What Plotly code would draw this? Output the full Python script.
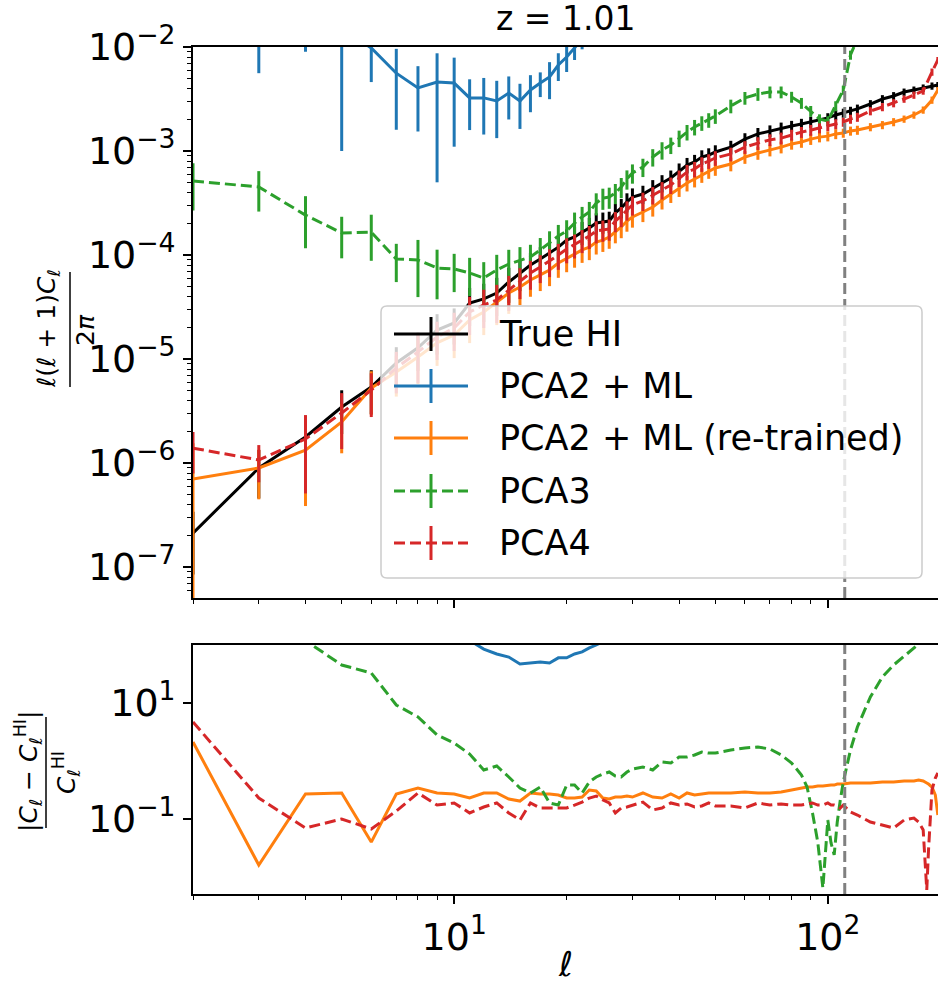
import plotly.graph_objects as go

# ---------------------------------------------------------------------------
# Angular power spectra at z = 1.01
# ---------------------------------------------------------------------------
ell = [2, 3, 4, 5, 6, 7, 8, 9, 10, 11, 12, 13, 14, 15, 16, 17, 18, 19, 20, 21,
       22, 23, 24, 25, 26, 27, 28, 29, 30, 32, 34, 36, 38, 40, 42, 44, 46, 48,
       50, 55, 60, 65, 70, 75, 80, 85, 90, 95, 100, 105, 110, 115, 120, 130,
       140, 150, 160, 170, 180, 190, 197]

cl_true_hi = [2.12e-7, 8.95e-7, 1.78e-6, 3.45e-6, 5.38e-6, 9.15e-6, 1.28e-5, 1.90e-5,
              2.22e-5, 3.45e-5, 3.78e-5, 4.31e-5, 5.50e-5, 6.71e-5, 8.01e-5, 9.15e-5,
              1.045e-4, 1.19e-4, 1.39e-4, 1.49e-4, 1.66e-4, 1.82e-4, 2.03e-4, 2.08e-4,
              2.12e-4, 2.54e-4, 2.83e-4, 3.24e-4, 3.61e-4,
              3.86e-4, 4.41e-4, 4.92e-4, 5.50e-4, 6.43e-4, 7.33e-4, 7.84e-4, 8.75e-4, 9.15e-4,
              9.78e-4, 1.09e-3, 1.30e-3, 1.46e-3, 1.56e-3, 1.66e-3, 1.74e-3, 1.82e-3,
              1.90e-3, 1.99e-3, 2.08e-3, 2.22e-3, 2.32e-3, 2.42e-3, 2.54e-3,
              2.83e-3, 3.16e-3, 3.38e-3, 3.69e-3, 3.86e-3, 4.04e-3, 4.22e-3, 4.31e-3]

cl_pca2_ml_rt = [7.02e-7, 8.95e-7, 1.33e-6, 2.48e-6, 5.26e-6, 7.50e-6, 1.045e-5, 1.43e-5,
                 1.70e-5, 2.37e-5, 2.83e-5, 3.53e-5, 4.31e-5, 4.92e-5, 5.75e-5, 6.43e-5,
                 7.17e-5, 8.38e-5, 9.36e-5, 1.02e-4, 1.12e-4, 1.19e-4, 1.33e-4, 1.39e-4,
                 1.49e-4, 1.66e-4, 1.86e-4, 2.12e-4, 2.32e-4,
                 2.59e-4, 2.89e-4, 3.38e-4, 3.86e-4, 4.41e-4, 4.92e-4, 5.38e-4, 5.88e-4, 6.43e-4,
                 6.87e-4, 7.50e-4, 8.75e-4, 9.57e-4, 1.02e-3, 1.09e-3, 1.17e-3, 1.22e-3,
                 1.30e-3, 1.36e-3, 1.39e-3, 1.46e-3, 1.49e-3, 1.56e-3, 1.59e-3,
                 1.70e-3, 1.78e-3, 1.90e-3, 2.03e-3, 2.22e-3, 2.48e-3, 3.09e-3, 3.86e-3]

cl_pca3 = [5.15e-4, 4.51e-4, 2.42e-4, 1.63e-4, 1.66e-4, 9.15e-5, 8.95e-5, 7.50e-5,
           7.33e-5, 6.71e-5, 6.01e-5, 7.17e-5, 8.19e-5, 8.95e-5, 9.57e-5, 1.12e-4,
           1.30e-4, 1.52e-4, 1.70e-4, 2.03e-4, 2.32e-4, 2.59e-4, 3.16e-4, 3.53e-4,
           3.61e-4, 3.95e-4, 4.51e-4, 5.38e-4, 6.14e-4,
           7.02e-4, 8.75e-4, 1.02e-3, 1.14e-3, 1.33e-3, 1.52e-3, 1.70e-3, 1.86e-3, 1.99e-3,
           2.17e-3, 2.71e-3, 3.24e-3, 3.53e-3, 3.69e-3, 3.69e-3, 3.31e-3, 2.89e-3,
           2.42e-3, 2.03e-3, 1.94e-3, 2.71e-3, 3.86e-3, 8.38e-3, 1.2e-2,
           3.9e-2, 9.2e-2, 0.156, 0.24, 0.35, 0.5, 0.68, 0.82]

cl_pca4 = [1.39e-6, 1.07e-6, 1.70e-6, 3.03e-6, 5.03e-6, 8.19e-6, 1.17e-5, 1.63e-5,
           1.99e-5, 2.83e-5, 3.31e-5, 3.69e-5, 4.60e-5, 5.62e-5, 6.71e-5, 7.67e-5,
           8.75e-5, 1.00e-4, 1.14e-4, 1.25e-4, 1.39e-4, 1.52e-4, 1.70e-4, 1.74e-4,
           1.78e-4, 2.12e-4, 2.37e-4, 2.71e-4, 3.03e-4,
           3.31e-4, 3.78e-4, 4.22e-4, 4.71e-4, 5.50e-4, 6.28e-4, 6.71e-4, 7.50e-4, 8.01e-4,
           8.57e-4, 9.36e-4, 1.09e-3, 1.19e-3, 1.28e-3, 1.33e-3, 1.43e-3, 1.52e-3,
           1.59e-3, 1.66e-3, 1.74e-3, 1.82e-3, 1.90e-3, 2.03e-3, 2.12e-3,
           2.42e-3, 2.65e-3, 2.89e-3, 3.16e-3, 3.45e-3, 3.78e-3, 5.75e-3, 7.50e-3]

# PCA2 + ML only stays on scale at low multipoles
ell_pca2_ml = ell[:29]
cl_pca2_ml = [3.0e-2, 2.0e-2, 2.5e-2, 1.5e-2, 9.8e-3, 5.6e-3, 4.04e-3, 4.6e-3, 4.5e-3,
              3.24e-3, 3.24e-3, 3.03e-3, 3.61e-3, 3.03e-3, 3.86e-3, 4.5e-3, 5.15e-3,
              6.71e-3, 8.0e-3, 9.8e-3, 1.2e-2, 1.45e-2, 1.75e-2, 2.1e-2, 2.5e-2,
              3.0e-2, 3.5e-2, 4.1e-2, 4.8e-2]
err_pca2_ml = [1.5e-2, 1.44e-2, 1.6e-2, 1.4e-2, 5.2e-3, 4.0e-3, 2.5e-3, 4.1e-3, 3.4e-3,
               1.65e-3, 1.8e-3, 1.7e-3, 1.6e-3, 1.4e-3, 1.5e-3, 1.2e-3, 2.0e-3,
               2.0e-3, 2.25e-3, 2.3e-3, 2.5e-3, 2.8e-3, 3.0e-3, 3.3e-3, 3.6e-3,
               4.0e-3, 4.5e-3, 5.0e-3, 5.5e-3]

# fractional 1-sigma errors: per-series for l = 2..12, common above
rel_err_true_low = [0.60, 0.49, 0.50, 0.45, 0.45, 0.42, 0.40, 0.42, 0.38, 0.40, 0.40]
rel_err_rt_low = [1.20, 0.50, 0.71, 0.50, 0.45, 0.42, 0.45, 0.40, 0.40, 0.40, 0.40]
rel_err_pca3_low = [0.48, 0.42, 0.52, 0.43, 0.47, 0.40, 0.56, 0.50, 0.40, 0.40, 0.42]
rel_err_pca4_low = [0.43, 0.39, 0.70, 0.55, 0.45, 0.43, 0.50, 0.40, 0.40, 0.40, 0.40]
rel_err_high = [0.40, 0.37, 0.33, 0.31, 0.30, 0.30, 0.28, 0.27, 0.26, 0.25, 0.25, 0.24,
                0.23, 0.23, 0.22, 0.22, 0.21, 0.21,
                0.20, 0.19, 0.19, 0.18, 0.18, 0.17, 0.17, 0.16, 0.16,
                0.16, 0.15, 0.14, 0.14, 0.13, 0.13, 0.12, 0.12, 0.12, 0.11, 0.11, 0.11,
                0.10, 0.10, 0.10,
                0.09, 0.09, 0.09, 0.08, 0.08, 0.08, 0.08, 0.07]

# relative residuals |C_l - C_l^HI| / C_l^HI
ell_ratio = [2, 3, 4, 5, 6, 7, 8, 9, 10, 11, 12, 13, 14, 15, 16, 17, 18, 19, 20, 21,
             22, 23, 24, 25, 26, 27, 28, 29, 30, 32, 34, 36, 38, 40, 42, 44, 46, 48,
             50, 55, 60, 65, 70, 75, 80, 85, 88, 91, 94, 97, 100, 102, 104, 106, 108,
             110, 115, 120, 130, 140, 150, 160, 170, 175, 180, 184, 186, 190, 194, 197]

ratio_pca2_ml = [1.4e5, 2.2e4, 1.4e4, 4.3e3, 1.8e3, 610, 315, 240, 200, 120, 85, 70, 62,
                 47, 49, 51, 49, 60, 60, 70, 76, 89, 100, 115, 130, 150, 170, 190, 210]

ratio_pca2_ml_rt = [2.13, 0.0161, 0.27, 0.281, 0.040, 0.27, 0.342, 0.281, 0.27, 0.23,
                    0.281, 0.281, 0.221, 0.204, 0.281, 0.27, 0.27, 0.259, 0.23, 0.23,
                    0.239, 0.316, 0.304, 0.23, 0.221, 0.239, 0.239, 0.249, 0.239,
                    0.281, 0.239, 0.23, 0.27, 0.23, 0.281, 0.259, 0.27, 0.281,
                    0.281, 0.281, 0.292, 0.281, 0.281, 0.292, 0.316, 0.342, 0.356, 0.356,
                    0.371, 0.371, 0.385, 0.385, 0.385, 0.401, 0.401, 0.401, 0.418, 0.418,
                    0.418, 0.434, 0.434, 0.452, 0.452, 0.47, 0.452, 0.418, 0.401, 0.356,
                    0.259, 0.117]

ratio_pca3 = [2000, 500, 119, 45.2, 32.9, 9.24, 5.74, 2.81, 2.04, 1.32, 0.70, 0.82, 0.53,
              0.342, 0.28, 0.356, 0.189, 0.174, 0.385, 0.385, 0.28, 0.434, 0.53, 0.597,
              0.646, 0.551, 0.53, 0.646, 0.728,
              0.789, 0.70, 0.96, 0.925, 1.17, 1.17, 1.27, 1.43, 1.37,
              1.37, 1.55, 1.68, 1.74, 1.61, 1.27, 0.925, 0.574, 0.356, 0.127, 0.04,
              0.00646, 0.096, 0.0388, 0.024, 0.089, 0.213, 0.434, 1.55, 3.86, 12.7,
              28.1, 45.2, 64.6, 88.7, 104, 125, 140, 150, 165, 180, 190]

ratio_pca4 = [4.70, 0.23, 0.070, 0.100, 0.0673, 0.137, 0.281, 0.174, 0.189, 0.127,
              0.161, 0.189, 0.127, 0.096, 0.189, 0.155, 0.155, 0.155, 0.155, 0.174,
              0.196, 0.23, 0.249, 0.213, 0.189, 0.127, 0.155, 0.161, 0.174,
              0.196, 0.143, 0.155, 0.189, 0.174, 0.182, 0.161, 0.168, 0.189,
              0.168, 0.168, 0.155, 0.189, 0.174, 0.182, 0.174, 0.174, 0.182, 0.189,
              0.174, 0.174, 0.189, 0.174, 0.174, 0.168, 0.155, 0.174, 0.132, 0.117,
              0.0888, 0.0788, 0.070, 0.096, 0.104, 0.0888, 0.0646, 0.006, 0.029,
              0.316, 0.509, 0.621]

ell_cut = 111  # vertical marker

legend_labels = ["True HI", "PCA2 + ML", "PCA2 + ML (re-trained)", "PCA3", "PCA4"]
ytick_top = [1e-7, 1e-6, 1e-5, 1e-4, 1e-3, 1e-2]
ytick_top_text = ["10<sup>\u22127</sup>", "10<sup>\u22126</sup>", "10<sup>\u22125</sup>",
                  "10<sup>\u22124</sup>", "10<sup>\u22123</sup>", "10<sup>\u22122</sup>"]
ytick_bot = [0.1, 10]
ytick_bot_text = ["10<sup>\u22121</sup>", "10<sup>1</sup>"]
xtick = [10, 100]
xtick_text = ["10<sup>1</sup>", "10<sup>2</sup>"]

# ---------------------------------------------------------------------------
C_BLACK = "#000000"
C_BLUE = "#1f77b4"
C_ORANGE = "#ff7f0e"
C_GREEN = "#2ca02c"
C_RED = "#d62728"
DASH = "11px,5px"
FONT = "DejaVu Sans"

W, H = 938, 984
ML, MR, MT, MB = 193, 0, 47, 90
PW, PH = W - ML - MR, H - MT - MB


def xp(px):
    return (px - ML) / PW


def yp(py):
    return (H - MB - py) / PH


def abs_err(values, rel):
    return [v * r for v, r in zip(values, rel)]


err_true = abs_err(cl_true_hi, rel_err_true_low + rel_err_high)
err_rt = abs_err(cl_pca2_ml_rt, rel_err_rt_low + rel_err_high)
err_pca3 = abs_err(cl_pca3, rel_err_pca3_low + rel_err_high)
err_pca4 = abs_err(cl_pca4, rel_err_pca4_low + rel_err_high)

fig = go.Figure()


def spectrum(x, y, err, color, dash, name):
    fig.add_trace(go.Scatter(
        x=x, y=y, mode="lines", name=name, showlegend=False,
        line=dict(color=color, width=3, dash=dash),
        error_y=dict(type="data", array=err, color=color, thickness=3, width=0),
        xaxis="x", yaxis="y"))


spectrum(ell, cl_true_hi, err_true, C_BLACK, "solid", legend_labels[0])
spectrum(ell_pca2_ml, cl_pca2_ml, err_pca2_ml, C_BLUE, "solid", legend_labels[1])
spectrum(ell, cl_pca2_ml_rt, err_rt, C_ORANGE, "solid", legend_labels[2])
spectrum(ell, cl_pca3, err_pca3, C_GREEN, DASH, legend_labels[3])
spectrum(ell, cl_pca4, err_pca4, C_RED, DASH, legend_labels[4])


def residual(x, y, color, dash, name):
    fig.add_trace(go.Scatter(
        x=x, y=y, mode="lines", name=name, showlegend=False,
        line=dict(color=color, width=3, dash=dash), xaxis="x2", yaxis="y2"))


residual(ell_ratio[:29], ratio_pca2_ml, C_BLUE, "solid", legend_labels[1])
residual(ell_ratio, ratio_pca2_ml_rt, C_ORANGE, "solid", legend_labels[2])
residual(ell_ratio, ratio_pca3, C_GREEN, DASH, legend_labels[3])
residual(ell_ratio, ratio_pca4, C_RED, DASH, legend_labels[4])

# ---------------------------------------------------------------------------
x_minor = [m * 10 ** k for k in (0, 1, 2) for m in range(2, 10)]
y_minor = [m * 10.0 ** k for k in range(-8, -2) for m in range(2, 10)]
x_range = [0.30103, 2.2949]

common_x = dict(type="log", range=x_range, showgrid=False, zeroline=False,
                showline=True, linecolor="black", linewidth=1.8, mirror=True,
                ticks="outside", ticklen=8, tickwidth=1.6, tickcolor="black",
                tickmode="array", tickvals=xtick, ticktext=xtick_text,
                minor=dict(tickmode="array", tickvals=x_minor, ticks="outside",
                           ticklen=4, tickwidth=1.2, tickcolor="black", showgrid=False),
                tickfont=dict(family=FONT, size=38, color="black"))

fig.update_layout(
    width=W, height=H, margin=dict(l=ML, r=MR, t=MT, b=MB),
    paper_bgcolor="white", plot_bgcolor="white",
    font=dict(family=FONT, color="black"),
    xaxis=dict(common_x, anchor="y", domain=[0, 1], showticklabels=False),
    xaxis2=dict(common_x, anchor="y2", domain=[0, 1], matches="x"),
    yaxis=dict(type="log", range=[-7.298, -2.0], domain=[yp(598), 1.0],
               showgrid=False, zeroline=False, showline=True, linecolor="black",
               linewidth=1.8, ticks="outside", ticklen=8, tickwidth=1.6,
               tickcolor="black", tickmode="array", tickvals=ytick_top,
               ticktext=ytick_top_text,
               minor=dict(tickmode="array", tickvals=y_minor, ticks="outside",
                          ticklen=4, tickwidth=1.2, tickcolor="black", showgrid=False),
               tickfont=dict(family=FONT, size=38, color="black")),
    yaxis2=dict(type="log", range=[-2.293, 2.0], domain=[0.0, yp(645)],
                showgrid=False, zeroline=False, showline=True, linecolor="black",
                linewidth=1.8, ticks="outside", ticklen=8, tickwidth=1.6,
                tickcolor="black", tickmode="array", tickvals=ytick_bot,
                ticktext=ytick_bot_text,
                tickfont=dict(family=FONT, size=38, color="black")),
)

shapes = []
annotations = []

# vertical marker in both panels
for yref in ("y domain", "y2 domain"):
    shapes.append(dict(type="line", xref="x", yref=yref, x0=ell_cut, x1=ell_cut,
                       y0=0, y1=1, layer="above",
                       line=dict(color="#808080", width=3, dash="11px,5px")))


def rounded_box(x0, y0, x1, y1, r):
    """Path of a rectangle with rounded corners, pixel input -> paper coords."""
    pts = []
    pts.append(f"M {xp(x0 + r)},{yp(y0)}")
    pts.append(f"L {xp(x1 - r)},{yp(y0)}")
    pts.append(f"Q {xp(x1)},{yp(y0)} {xp(x1)},{yp(y0 + r)}")
    pts.append(f"L {xp(x1)},{yp(y1 - r)}")
    pts.append(f"Q {xp(x1)},{yp(y1)} {xp(x1 - r)},{yp(y1)}")
    pts.append(f"L {xp(x0 + r)},{yp(y1)}")
    pts.append(f"Q {xp(x0)},{yp(y1)} {xp(x0)},{yp(y1 - r)}")
    pts.append(f"L {xp(x0)},{yp(y0 + r)}")
    pts.append(f"Q {xp(x0)},{yp(y0)} {xp(x0 + r)},{yp(y0)} Z")
    return " ".join(pts)


# legend box
shapes.append(dict(type="path", xref="paper", yref="paper",
                   path=rounded_box(381, 306, 922, 578, 6), layer="above",
                   fillcolor="rgba(255,255,255,0.8)",
                   line=dict(color="#cccccc", width=1.5)))
legend_colors = [C_BLACK, C_BLUE, C_ORANGE, C_GREEN, C_RED]
legend_dash = ["solid", "solid", "solid", DASH, DASH]
legend_rows = [334, 386, 438, 491, 543]
for label, col, dsh, row in zip(legend_labels, legend_colors, legend_dash, legend_rows):
    shapes.append(dict(type="line", xref="paper", yref="paper", layer="above",
                       x0=xp(394), x1=xp(468), y0=yp(row), y1=yp(row),
                       line=dict(color=col, width=3, dash=dsh)))
    shapes.append(dict(type="line", xref="paper", yref="paper", layer="above",
                       x0=xp(431), x1=xp(431), y0=yp(row - 17), y1=yp(row + 17),
                       line=dict(color=col, width=3)))
    annotations.append(dict(xref="paper", yref="paper", x=xp(497), y=yp(row),
                            xanchor="left", yanchor="middle", showarrow=False,
                            text=label, font=dict(family=FONT, size=35, color="black")))

# title
annotations.append(dict(xref="paper", yref="paper", x=xp(565), y=yp(18),
                        xanchor="center", yanchor="middle", showarrow=False,
                        text="z = 1.01", font=dict(family=FONT, size=33, color="black")))

# x-axis label
annotations.append(dict(xref="paper", yref="paper", x=xp(565), y=yp(964),
                        xanchor="center", yanchor="middle", showarrow=False,
                        text="<i>\u2113</i>", font=dict(family=FONT, size=34, color="black")))

# y-axis label, upper panel: l(l+1)C_l / 2pi
annotations.append(dict(xref="paper", yref="paper", x=xp(48), y=yp(329),
                        xanchor="center", yanchor="middle", showarrow=False, textangle=-90,
                        text="<i>\u2113</i>(<i>\u2113</i> + 1)<i>C</i><sub><i>\u2113</i></sub>",
                        font=dict(family=FONT, size=25, color="black")))
annotations.append(dict(xref="paper", yref="paper", x=xp(86), y=yp(330),
                        xanchor="center", yanchor="middle", showarrow=False, textangle=-90,
                        text="2<i>\u03c0</i>", font=dict(family=FONT, size=25, color="black")))
shapes.append(dict(type="line", xref="paper", yref="paper", x0=xp(70), x1=xp(70),
                   y0=yp(272), y1=yp(387), line=dict(color="black", width=1.5)))

# y-axis label, lower panel: |C_l - C_l^HI| / C_l^HI
annotations.append(dict(xref="paper", yref="paper", x=xp(28), y=yp(772),
                        xanchor="center", yanchor="middle", showarrow=False, textangle=-90,
                        text="|<i>C</i><sub><i>\u2113</i></sub> \u2212 <i>C</i><sub><i>\u2113</i></sub><sup>HI</sup>|",
                        font=dict(family=FONT, size=25, color="black")))
annotations.append(dict(xref="paper", yref="paper", x=xp(66), y=yp(773),
                        xanchor="center", yanchor="middle", showarrow=False, textangle=-90,
                        text="<i>C</i><sub><i>\u2113</i></sub><sup>HI</sup>",
                        font=dict(family=FONT, size=25, color="black")))
shapes.append(dict(type="line", xref="paper", yref="paper", x0=xp(46), x1=xp(46),
                   y0=yp(717), y1=yp(828), line=dict(color="black", width=1.5)))

fig.update_layout(shapes=shapes, annotations=annotations)
fig.write_html("out.html")
